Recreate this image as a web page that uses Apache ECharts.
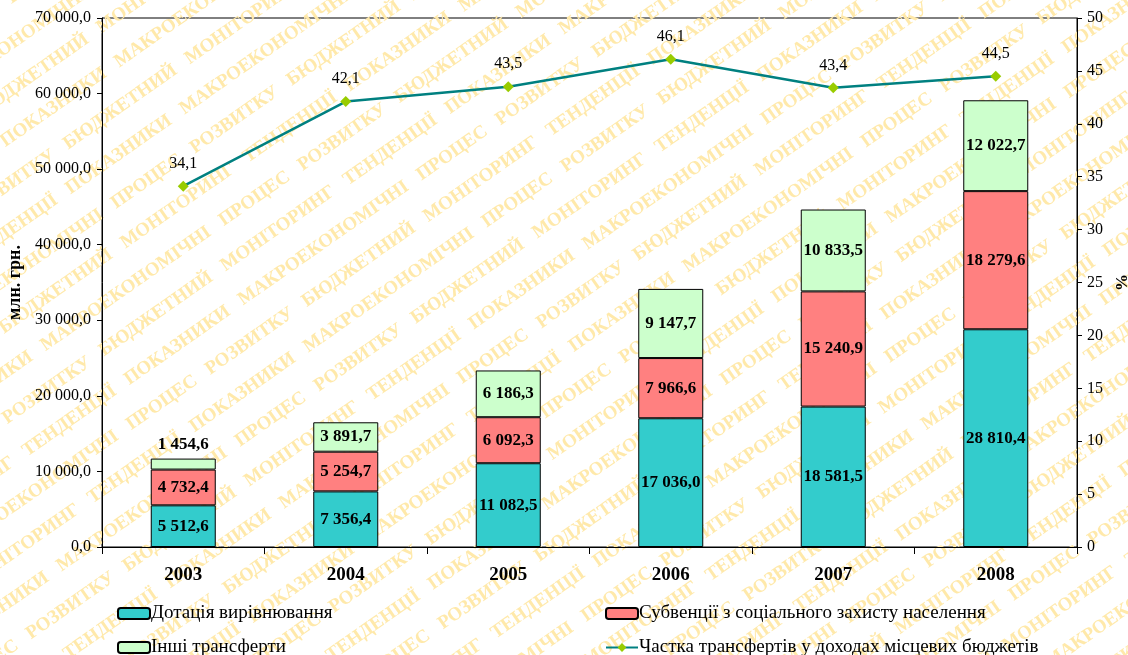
<!DOCTYPE html>
<html lang="uk" style="height: 100%">
<head>
  <meta charset="utf-8">
</head>
<body style="height: 100%; margin: 0">
  <div id="container" style="width: 1128px; height: 655px"></div>
  <script src="https://cdn.jsdelivr.net/npm/echarts@6/dist/echarts.min.js"></script>
  <script>
    // дані
    var years = ['2003', '2004', '2005', '2006', '2007', '2008'];
    var dotacia = [5512.6, 7356.4, 11082.5, 17036.0, 18581.5, 28810.4];
    var subvencii = [4732.4, 5254.7, 6092.3, 7966.6, 15240.9, 18279.6];
    var inshi = [1454.6, 3891.7, 6186.3, 9147.7, 10833.5, 12022.7];
    var chastka = [34.1, 42.1, 43.5, 46.1, 43.4, 44.5];

    var names = ['Дотація вирівнювання', 'Субвенції з соціального захисту населення',
                 'Інші трансферти', 'Частка трансфертів у доходах місцевих бюджетів'];

    // водяний знак
    var wmWords = ['МОНІТОРИНГ', 'ТЕНДЕНЦІЇ', 'ПОКАЗНИКИ', 'МАКРОЕКОНОМІЧНІ', 'ПРОЦЕС', 'РОЗВИТКУ', 'БЮДЖЕТНИЙ'];

    function fmt(v, d) {
      var s = v.toFixed(d).split('.');
      var intPart = s[0].replace(/\B(?=(\d{3})+(?!\d))/g, ' ');
      return d > 0 ? intPart + ',' + s[1] : intPart;
    }

    var serif = '"Liberation Serif", "DejaVu Serif", serif';

    var wmLines = [];
    for (var i = 0; i < 48; i++) {
      var str = '';
      for (var k = 0; k < 16; k++) {
        str += wmWords[(i * 3 + k) % wmWords.length] + '   ';
      }
      wmLines.push({
        type: 'text',
        x: -1000 + (i % 4) * 35,
        y: -900 + i * 38,
        style: {
          text: str,
          fill: '#FFE9AA',
          font: 'bold 19px ' + serif
        }
      });
    }

    var dom = document.getElementById('container');
    var myChart = echarts.init(dom, null, { renderer: 'canvas' });

    var barLabel = {
      show: true,
      position: 'inside',
      color: '#000',
      fontWeight: 'bold',
      fontSize: 17,
      fontFamily: serif,
      formatter: function (p) { return fmt(p.value, 1); }
    };

    var legendBase = {
      itemWidth: 32,
      itemHeight: 11,
      itemGap: 0,
      textStyle: { fontFamily: serif, fontSize: 19, color: '#000', padding: [0, 0, 0, -4] }
    };

    var option = {
      backgroundColor: '#fff',
      animation: false,
      graphic: [{
        type: 'group',
        x: 564,
        y: 327,
        rotation: 35 * Math.PI / 180,
        silent: true,
        z: -10,
        children: wmLines
      }],
      legend: [
        Object.assign({ left: 112, top: 599, data: [names[0]] }, legendBase),
        Object.assign({ left: 600, top: 599, data: [names[1]] }, legendBase),
        Object.assign({ left: 112, top: 633, data: [names[2]] }, legendBase),
        Object.assign({ left: 600, top: 633, data: [names[3]] }, legendBase)
      ],
      grid: {
        left: 102, right: 51, top: 18, bottom: 108,
        outerBoundsMode: 'none', containLabel: false,
        show: true, borderColor: '#000', borderWidth: 1, backgroundColor: 'transparent'
      },
      xAxis: {
        type: 'category',
        data: years,
        axisLine: { lineStyle: { color: '#000' } },
        axisTick: { show: true, length: 7, lineStyle: { color: '#000' } },
        axisLabel: { color: '#000', fontWeight: 'bold', fontSize: 19, fontFamily: serif, margin: 19 }
      },
      yAxis: [{
        type: 'value',
        min: 0,
        max: 70000,
        interval: 10000,
        name: 'млн. грн.',
        nameLocation: 'middle',
        nameRotate: 90,
        nameGap: 76,
        nameTextStyle: { color: '#000', fontWeight: 'bold', fontSize: 18, fontFamily: serif },
        axisLine: { show: true, lineStyle: { color: '#000' } },
        axisTick: { show: true, length: 5, lineStyle: { color: '#000' } },
        splitLine: { show: false },
        axisLabel: { color: '#000', fontSize: 16, fontFamily: serif, margin: 11, formatter: function (v) { return fmt(v, 1); } }
      }, {
        type: 'value',
        min: 0,
        max: 50,
        interval: 5,
        name: '%',
        nameLocation: 'middle',
        nameRotate: 90,
        nameGap: 24,
        nameTextStyle: { color: '#000', fontWeight: 'bold', fontSize: 17, fontFamily: serif },
        axisLine: { show: true, lineStyle: { color: '#000' } },
        axisTick: { show: true, length: 5, lineStyle: { color: '#000' } },
        splitLine: { show: false },
        axisLabel: { color: '#000', fontSize: 16, fontFamily: serif, margin: 10 }
      }],
      series: [
        {
          name: names[0], type: 'bar', stack: 'total', barWidth: '40%',
          itemStyle: { color: '#33CCCC', borderColor: '#000', borderWidth: 1 },
          label: barLabel,
          data: dotacia
        },
        {
          name: names[1], type: 'bar', stack: 'total',
          itemStyle: { color: '#FF8080', borderColor: '#000', borderWidth: 1 },
          label: barLabel,
          data: subvencii
        },
        {
          name: names[2], type: 'bar', stack: 'total',
          itemStyle: { color: '#CCFFCC', borderColor: '#000', borderWidth: 1 },
          label: barLabel,
          data: inshi.map(function (v, i) {
            return i === 0 ? { value: v, label: { position: 'top', distance: 5 } } : v;
          })
        },
        {
          name: names[3], type: 'line', yAxisIndex: 1,
          symbol: 'diamond', symbolSize: 11,
          lineStyle: { color: '#008080', width: 2.5 },
          itemStyle: { color: '#99CC00' },
          label: {
            show: true, position: 'top', distance: 9, color: '#000', fontSize: 16, fontFamily: serif,
            formatter: function (p) { return fmt(p.value, 1); }
          },
          data: chastka
        }
      ]
    };

    myChart.setOption(option);
  </script>
</body>
</html>
